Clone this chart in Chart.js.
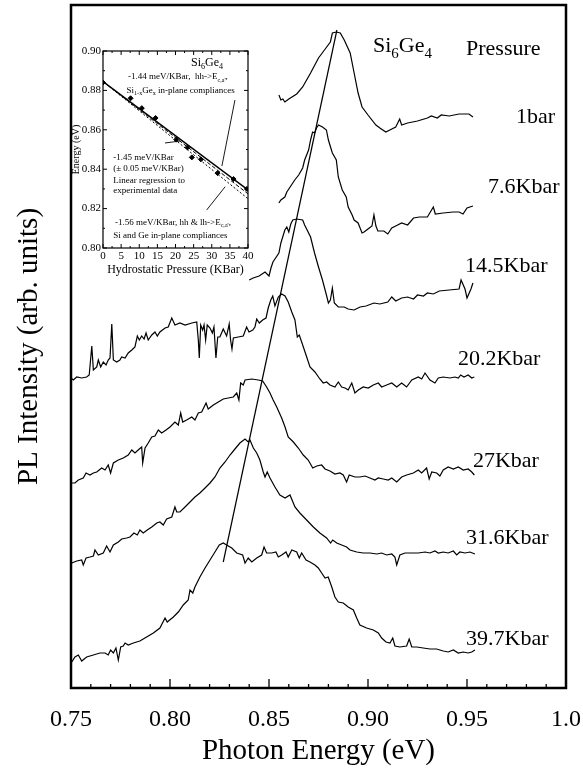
<!DOCTYPE html>
<html>
<head>
<meta charset="utf-8">
<script src="https://cdn.jsdelivr.net/npm/chart.js@4.4.1/dist/chart.umd.min.js"></script>
<style>
  html, body { margin: 0; padding: 0; background: #fff; }
  #wrap { position: relative; width: 583px; height: 777px; }
  #mainChart { position: absolute; left: 0; top: 0; }
  #insetChart { position: absolute; left: 70px; top: 40px; }
</style>
</head>
<body>
<div id="wrap">
  <canvas id="mainChart" width="583" height="777"></canvas>
  <canvas id="insetChart" width="190" height="245"></canvas>
</div>
<script>
// PL spectra of Si6Ge4 under hydrostatic pressure (energy in eV, intensity in arb. units, stacked)
const pressures = ['1bar', '7.6Kbar', '14.5Kbar', '20.2Kbar', '27Kbar', '31.6Kbar', '39.7Kbar'];

const e1bar = [0.855,0.856,0.857,0.858,0.860,0.864,0.867,0.871,0.875,0.878,0.881,0.882,0.884,0.886,0.888,0.891,0.893,0.895,0.897,0.900,0.904,0.906,0.909,0.912,0.914,0.916,0.917,0.920,0.925,0.930,0.932,0.935,0.937,0.941,0.946,0.951,0.953];
const i1bar = [5.93,5.88,5.89,5.86,5.89,5.94,6.01,6.15,6.30,6.38,6.46,6.55,6.56,6.55,6.48,6.35,6.15,5.95,5.81,5.73,5.63,5.60,5.56,5.59,5.61,5.69,5.63,5.65,5.67,5.70,5.72,5.70,5.73,5.72,5.74,5.74,5.71];

const e7k6 = [0.855,0.856,0.858,0.859,0.861,0.862,0.863,0.865,0.867,0.868,0.870,0.871,0.872,0.873,0.874,0.875,0.877,0.879,0.880,0.882,0.884,0.885,0.887,0.889,0.890,0.892,0.893,0.895,0.896,0.897,0.898,0.900,0.902,0.903,0.904,0.905,0.908,0.910,0.912,0.914,0.917,0.920,0.923,0.926,0.930,0.933,0.934,0.938,0.943,0.946,0.948,0.950,0.953];
const i7k6 = [4.85,4.88,4.91,4.96,5.02,5.05,5.08,5.13,5.20,5.28,5.38,5.48,5.56,5.55,5.60,5.63,5.61,5.58,5.48,5.35,5.28,5.11,4.98,4.91,4.81,4.73,4.68,4.65,4.60,4.55,4.56,4.59,4.62,4.73,4.62,4.57,4.57,4.54,4.60,4.62,4.65,4.63,4.70,4.71,4.71,4.81,4.74,4.75,4.76,4.76,4.74,4.80,4.82];

const e14k5 = [0.840,0.842,0.845,0.848,0.850,0.851,0.852,0.855,0.856,0.858,0.859,0.860,0.861,0.862,0.864,0.867,0.868,0.871,0.873,0.875,0.877,0.879,0.880,0.881,0.882,0.883,0.885,0.888,0.890,0.893,0.896,0.899,0.903,0.906,0.910,0.912,0.914,0.917,0.920,0.923,0.925,0.928,0.930,0.933,0.936,0.941,0.946,0.947,0.949,0.950,0.952,0.953];
const i14k5 = [4.08,4.10,4.12,4.16,4.12,4.20,4.26,4.35,4.45,4.58,4.61,4.56,4.64,4.68,4.69,4.68,4.63,4.51,4.35,4.21,4.08,3.93,3.85,3.88,4.00,3.85,3.81,3.81,3.79,3.78,3.81,3.82,3.85,3.84,3.86,3.91,3.87,3.90,3.91,3.89,3.93,3.92,3.95,3.94,3.97,3.98,3.99,4.08,3.99,3.90,3.99,4.05];

const e20k2 = [0.7500,0.7512,0.7529,0.7554,0.7579,0.7592,0.7605,0.7613,0.7630,0.7638,
  0.7650,0.7663,0.7677,0.7688,0.7697,0.7706,0.7714,0.7731,0.7747,0.7756,
  0.7773,0.7789,0.7807,0.7823,0.7835,0.7845,0.7857,0.7869,0.7879,0.7890,
  0.7908,0.7924,0.7936,0.7949,0.7975,0.7991,0.8009,0.8025,0.8050,0.8076,
  0.8110,0.8135,0.8143,0.8148,0.8155,0.8165,0.8172,0.8180,0.8188,0.8202,
  0.8214,0.8222,0.8232,0.8241,0.8252,0.8269,0.8286,0.8299,0.8306,0.8313,
  0.8320,0.8345,0.8370,0.8387,0.8399,0.8418,0.8429,0.8438,0.8451,0.8468,
  0.8485,0.8496,0.8509,0.8519,0.8530,0.8547,0.8564,0.8581,0.8597,0.8615,
  0.8631,0.8643,0.8653,0.8665,0.8682,0.8707,0.8732,0.8757,0.8774,0.8791,
  0.8808,0.8833,0.8850,0.8867,0.8884,0.8900,0.8918,0.8934,0.8951,0.8976,
  0.9001,0.9027,0.9052,0.9069,0.9094,0.9120,0.9145,0.9170,0.9195,0.9221,
  0.9254,0.9271,0.9288,0.9313,0.9338,0.9355,0.9380,0.9414,0.9439,0.9456,
  0.9468,0.9485,0.9506,0.9524,0.9537];
const i20k2 = [3.10,3.08,3.11,3.10,3.11,3.13,3.42,3.18,3.21,3.28,
  3.21,3.26,3.23,3.28,3.30,3.64,3.28,3.26,3.28,3.31,
  3.30,3.35,3.38,3.41,3.52,3.48,3.52,3.49,3.55,3.48,
  3.53,3.56,3.52,3.56,3.60,3.61,3.70,3.63,3.65,3.63,
  3.65,3.66,3.48,3.30,3.63,3.58,3.63,3.48,3.63,3.60,
  3.55,3.61,3.30,3.51,3.51,3.59,3.52,3.64,3.48,3.39,
  3.50,3.51,3.52,3.61,3.56,3.58,3.61,3.69,3.65,3.68,
  3.70,3.80,3.88,3.92,3.82,3.91,3.94,3.92,3.86,3.76,
  3.68,3.51,3.53,3.46,3.36,3.21,3.16,3.09,3.05,3.06,
  3.03,3.01,3.06,3.01,3.00,2.98,3.05,2.95,2.98,3.01,
  3.00,3.03,3.05,3.01,3.03,3.05,3.01,3.05,3.01,3.08,
  3.11,3.09,3.15,3.08,3.05,3.10,3.11,3.10,3.11,3.10,
  3.13,3.11,3.13,3.10,3.11];

const e27k = [0.7504,0.7520,0.7537,0.7562,0.7576,0.7596,0.7613,0.7630,0.7655,0.7672,
  0.7688,0.7700,0.7714,0.7739,0.7764,0.7789,0.7807,0.7823,0.7845,0.7857,
  0.7862,0.7874,0.7890,0.7908,0.7924,0.7941,0.7958,0.7980,0.8000,0.8025,
  0.8042,0.8054,0.8064,0.8084,0.8110,0.8126,0.8143,0.8160,0.8182,0.8193,
  0.8219,0.8244,0.8269,0.8294,0.8320,0.8337,0.8348,0.8357,0.8370,0.8379,
  0.8413,0.8446,0.8468,0.8488,0.8505,0.8521,0.8539,0.8564,0.8581,0.8597,
  0.8623,0.8648,0.8673,0.8698,0.8721,0.8741,0.8766,0.8783,0.8808,0.8833,
  0.8858,0.8875,0.8892,0.8905,0.8934,0.8959,0.8985,0.9010,0.9035,0.9052,
  0.9077,0.9102,0.9120,0.9145,0.9170,0.9195,0.9229,0.9254,0.9271,0.9296,
  0.9309,0.9322,0.9347,0.9363,0.9380,0.9405,0.9431,0.9456,0.9481,0.9506,
  0.9524,0.9537];
const i27k = [2.05,2.05,2.08,2.10,2.15,2.13,2.15,2.16,2.20,2.18,
  2.23,2.15,2.25,2.28,2.30,2.33,2.38,2.35,2.39,2.41,
  2.25,2.40,2.45,2.51,2.52,2.58,2.55,2.58,2.61,2.66,
  2.63,2.75,2.66,2.68,2.71,2.68,2.75,2.76,2.85,2.79,
  2.83,2.86,2.89,2.90,2.91,2.95,2.88,3.05,3.03,3.08,
  3.09,3.08,3.07,3.01,2.95,2.88,2.81,2.70,2.61,2.51,
  2.46,2.40,2.33,2.28,2.20,2.22,2.23,2.19,2.17,2.14,
  2.15,2.13,2.06,2.13,2.11,2.11,2.12,2.10,2.08,2.10,
  2.09,2.08,2.10,2.06,2.11,2.13,2.15,2.18,2.15,2.20,
  2.09,2.16,2.15,2.12,2.18,2.21,2.19,2.21,2.18,2.19,
  2.16,2.13];

const e31k6 = [0.7504,0.7529,0.7554,0.7562,0.7576,0.7596,0.7613,0.7621,0.7638,0.7663,
  0.7680,0.7697,0.7714,0.7739,0.7756,0.7781,0.7798,0.7818,0.7835,0.7848,
  0.7865,0.7885,0.7908,0.7933,0.7949,0.7966,0.7983,0.8009,0.8025,0.8034,
  0.8050,0.8076,0.8101,0.8126,0.8151,0.8177,0.8202,0.8227,0.8252,0.8278,
  0.8303,0.8328,0.8353,0.8379,0.8395,0.8404,0.8421,0.8438,0.8454,0.8471,
  0.8480,0.8491,0.8505,0.8530,0.8555,0.8581,0.8606,0.8631,0.8656,0.8690,
  0.8724,0.8757,0.8791,0.8811,0.8822,0.8842,0.8867,0.8892,0.8909,0.8943,
  0.8976,0.9010,0.9044,0.9069,0.9094,0.9120,0.9136,0.9145,0.9161,0.9187,
  0.9221,0.9254,0.9288,0.9313,0.9338,0.9355,0.9380,0.9405,0.9431,0.9448,
  0.9464,0.9490,0.9515,0.9540];
const i31k6 = [1.25,1.27,1.28,1.23,1.30,1.31,1.32,1.38,1.33,1.35,
  1.42,1.36,1.43,1.46,1.49,1.50,1.51,1.55,1.53,1.58,
  1.55,1.58,1.61,1.65,1.66,1.63,1.69,1.71,1.81,1.76,
  1.76,1.81,1.86,1.91,1.95,2.00,2.05,2.11,2.20,2.26,
  2.33,2.39,2.45,2.49,2.46,2.48,2.40,2.35,2.28,2.16,
  2.11,2.16,2.10,2.01,1.93,1.90,1.93,1.81,1.75,1.68,
  1.61,1.55,1.50,1.45,1.48,1.45,1.43,1.41,1.38,1.36,
  1.35,1.35,1.34,1.35,1.33,1.34,1.31,1.23,1.33,1.35,
  1.35,1.35,1.36,1.35,1.37,1.35,1.36,1.35,1.37,1.33,
  1.36,1.35,1.36,1.34];

const e39k7 = [0.7504,0.7520,0.7537,0.7554,0.7579,0.7613,0.7646,0.7672,0.7688,0.7700,
  0.7714,0.7727,0.7739,0.7751,0.7764,0.7773,0.7789,0.7815,0.7848,0.7882,
  0.7916,0.7949,0.7975,0.7986,0.8017,0.8042,0.8067,0.8092,0.8101,0.8115,
  0.8126,0.8151,0.8177,0.8202,0.8227,0.8249,0.8269,0.8286,0.8312,0.8337,
  0.8367,0.8379,0.8395,0.8413,0.8438,0.8463,0.8475,0.8488,0.8514,0.8535,
  0.8547,0.8564,0.8586,0.8597,0.8615,0.8640,0.8653,0.8665,0.8687,0.8707,
  0.8732,0.8749,0.8766,0.8783,0.8799,0.8817,0.8833,0.8850,0.8875,0.8900,
  0.8926,0.8943,0.8959,0.8993,0.9027,0.9052,0.9069,0.9091,0.9111,0.9125,
  0.9136,0.9161,0.9195,0.9208,0.9221,0.9246,0.9279,0.9313,0.9347,0.9380,
  0.9405,0.9431,0.9456,0.9481,0.9506,0.9524,0.9540];
const i39k7 = [0.26,0.31,0.33,0.27,0.31,0.33,0.35,0.35,0.33,0.38,
  0.35,0.40,0.28,0.41,0.42,0.45,0.43,0.45,0.47,0.51,
  0.55,0.60,0.70,0.66,0.71,0.76,0.83,0.88,0.98,0.95,
  1.01,1.11,1.20,1.28,1.36,1.43,1.45,1.43,1.40,1.35,
  1.33,1.25,1.30,1.26,1.30,1.33,1.41,1.35,1.35,1.36,
  1.31,1.33,1.36,1.31,1.38,1.36,1.30,1.35,1.28,1.26,
  1.23,1.20,1.15,1.10,1.11,1.01,0.91,0.86,0.85,0.81,
  0.78,0.70,0.63,0.60,0.58,0.55,0.50,0.46,0.45,0.50,
  0.42,0.41,0.42,0.49,0.41,0.41,0.40,0.39,0.39,0.37,
  0.36,0.38,0.35,0.36,0.35,0.36,0.38];

// straight guide line through the peaks
const peakLineE = [0.8843, 0.8269];
const peakLineI = [6.58, 1.26];

const energyTicks = [0.75, 0.80, 0.85, 0.90, 0.95, 1.0];

// inset: peak energy vs hydrostatic pressure
const insetP = [0, 7.6, 10.7, 14.5, 20.2, 23.3, 24.5, 27, 31.6, 36, 39.7];
const insetE = [0.884, 0.876, 0.871, 0.866, 0.855, 0.851, 0.846, 0.845, 0.838, 0.835, 0.830];
const fitP = [0, 40];
const fitSolid = [0.8845, 0.8295];
const fitDash = [0.8845, 0.8275];
const fitDot = [0.8845, 0.8250];

// ---- layout (not data) ----
const SERIF = "'Liberation Serif', 'Times New Roman', serif";
Chart.defaults.font.family = SERIF;
Chart.defaults.color = '#000';

const labelAt = [[0.9747, 5.72], [0.9606, 5.02], [0.9490, 4.23], [0.9454, 3.30], [0.9530, 2.28], [0.9495, 1.51], [0.9495, 0.50]];
const pressureHeadAt = [0.9495, 6.40];
const sampleAt = [0.9025, 6.43];

const insetNotes = [
  { parts: [['Si'], ['6', 1], ['Ge'], ['4', 1]], at: [28.7, 0.8944], size: 12, align: 'center' },
  { parts: [['-1.44 meV/KBar,  hh->E'], ["c,a'", 1], [',']], at: [6.9, 0.8873], size: 9 },
  { parts: [['Si'], ['1-x', 1], ['Ge'], ['x', 1], [' in-plane compliances']], at: [6.5, 0.8802], size: 9 },
  { parts: [['-1.45 meV/KBar']], at: [2.8, 0.8462], size: 9 },
  { parts: [['(\u00b1 0.05 meV/KBar)']], at: [2.8, 0.8406], size: 9 },
  { parts: [['Linear regression to']], at: [2.8, 0.8345], size: 9 },
  { parts: [['experimental data']], at: [2.8, 0.8294], size: 9 },
  { parts: [['-1.56 meV/KBar, hh & lh->E'], ["c,a'", 1], [',']], at: [3.3, 0.8132], size: 9 },
  { parts: [['Si and Ge in-plane compliances']], at: [2.8, 0.8066], size: 9 }
];
const insetPointers = [
  [[36.4, 0.8751], [32.8, 0.8416]],
  [[17.1, 0.8533], [21.2, 0.8543]],
  [[28.6, 0.8193], [33.7, 0.8311]]
];

function richText(ctx, parts, x0, yMid, size, align) {
  const small = size * 0.68;
  let w = 0;
  parts.forEach(([t, sub]) => {
    ctx.font = `${sub ? small : size}px ${SERIF}`;
    w += ctx.measureText(t).width;
  });
  let cx = align === 'center' ? x0 - w / 2 : x0;
  ctx.textAlign = 'left';
  ctx.textBaseline = 'alphabetic';
  parts.forEach(([t, sub]) => {
    ctx.font = `${sub ? small : size}px ${SERIF}`;
    ctx.fillText(t, cx, yMid + size * 0.33 + (sub ? size * 0.28 : 0));
    cx += ctx.measureText(t).width;
  });
}

const toPts = (xs, ys) => xs.map((x, k) => ({ x, y: ys[k] }));
const curve = (xs, ys) => ({
  data: toPts(xs, ys), borderColor: '#000', borderWidth: 1.2,
  pointRadius: 0, tension: 0, fill: false
});

const mainDecor = {
  id: 'mainDecor',
  afterDraw(chart) {
    const { ctx, chartArea: a, scales: { x, y } } = chart;
    ctx.save();
    ctx.strokeStyle = '#000';
    ctx.lineWidth = 2.5;
    ctx.strokeRect(a.left, a.top, a.right - a.left, a.bottom - a.top);
    ctx.lineWidth = 1.3;
    for (let k = 0; k <= 25; k++) {
      const px = x.getPixelForValue(0.75 + k * 0.01);
      const len = k % 5 === 0 ? 9 : 4;
      ctx.beginPath();
      ctx.moveTo(px, a.bottom);
      ctx.lineTo(px, a.bottom - len);
      ctx.stroke();
    }
    ctx.fillStyle = '#000';
    pressures.forEach((t, k) => {
      richText(ctx, [[t]], x.getPixelForValue(labelAt[k][0]), y.getPixelForValue(labelAt[k][1]), 22, 'left');
    });
    richText(ctx, [['Pressure']], x.getPixelForValue(pressureHeadAt[0]), y.getPixelForValue(pressureHeadAt[1]), 22, 'left');
    richText(ctx, [['Si'], ['6', 1], ['Ge'], ['4', 1]], x.getPixelForValue(sampleAt[0]), y.getPixelForValue(sampleAt[1]), 22, 'left');
    ctx.restore();
  }
};

new Chart(document.getElementById('mainChart'), {
  type: 'line',
  data: {
    datasets: [
      curve(e1bar, i1bar), curve(e7k6, i7k6), curve(e14k5, i14k5), curve(e20k2, i20k2),
      curve(e27k, i27k), curve(e31k6, i31k6), curve(e39k7, i39k7),
      curve(peakLineE, peakLineI)
    ]
  },
  options: {
    responsive: false,
    animation: false,
    layout: { padding: { top: 5, right: 17, left: 0, bottom: 0 } },
    plugins: { legend: { display: false }, tooltip: { enabled: false } },
    scales: {
      x: {
        type: 'linear', min: 0.75, max: 1.0,
        afterBuildTicks: s => { s.ticks = energyTicks.map(v => ({ value: v })); },
        ticks: {
          font: { size: 24 }, color: '#000', padding: 17, maxRotation: 0, autoSkip: false,
          callback: v => (Math.abs(v - 1) < 1e-9 ? '1.0' : v.toFixed(2))
        },
        grid: { display: false, drawTicks: false },
        border: { display: false },
        title: { display: true, text: 'Photon Energy (eV)', font: { size: 29 }, color: '#000', padding: { top: 0, bottom: 8 } },
        afterFit: s => { s.height = 89; s.paddingLeft = 0; s.paddingRight = 0; }
      },
      y: {
        min: 0, max: 6.83,
        ticks: { display: false },
        grid: { display: false, drawTicks: false },
        border: { display: false },
        title: { display: true, text: 'PL Intensity (arb. units)', font: { size: 29 }, color: '#000', padding: { top: 12, bottom: 0 } },
        afterFit: s => { s.width = 71; s.paddingTop = 0; s.paddingBottom = 0; }
      }
    }
  },
  plugins: [mainDecor]
});

const insetDecor = {
  id: 'insetDecor',
  afterDraw(chart) {
    const { ctx, chartArea: a, scales: { x, y } } = chart;
    ctx.save();
    ctx.strokeStyle = '#000';
    ctx.lineWidth = 1.2;
    ctx.strokeRect(a.left, a.top, a.right - a.left, a.bottom - a.top);
    ctx.lineWidth = 1;
    for (let k = 0; k <= 16; k++) {
      const px = x.getPixelForValue(k * 2.5);
      const len = k % 2 === 0 ? 4 : 2;
      ctx.beginPath();
      ctx.moveTo(px, a.bottom); ctx.lineTo(px, a.bottom - len);
      ctx.moveTo(px, a.top); ctx.lineTo(px, a.top + len);
      ctx.stroke();
    }
    for (let k = 0; k <= 10; k++) {
      const py = y.getPixelForValue(0.80 + k * 0.01);
      const len = k % 2 === 0 ? 4 : 2;
      ctx.beginPath();
      ctx.moveTo(a.left, py); ctx.lineTo(a.left + len, py);
      ctx.moveTo(a.right, py); ctx.lineTo(a.right - len, py);
      ctx.stroke();
    }
    ctx.lineWidth = 0.9;
    insetPointers.forEach(([p0, p1]) => {
      ctx.beginPath();
      ctx.moveTo(x.getPixelForValue(p0[0]), y.getPixelForValue(p0[1]));
      ctx.lineTo(x.getPixelForValue(p1[0]), y.getPixelForValue(p1[1]));
      ctx.stroke();
    });
    ctx.fillStyle = '#000';
    insetNotes.forEach(n => {
      richText(ctx, n.parts, x.getPixelForValue(n.at[0]), y.getPixelForValue(n.at[1]), n.size, n.align || 'left');
    });
    ctx.restore();
  }
};

new Chart(document.getElementById('insetChart'), {
  type: 'line',
  data: {
    datasets: [
      { data: toPts(fitP, fitSolid), borderColor: '#000', borderWidth: 1.6, pointRadius: 0, tension: 0 },
      { data: toPts(fitP, fitDash), borderColor: '#000', borderWidth: 1, borderDash: [4, 2], pointRadius: 0, tension: 0 },
      { data: toPts(fitP, fitDot), borderColor: '#000', borderWidth: 1, borderDash: [2, 2], pointRadius: 0, tension: 0 },
      { data: toPts(insetP, insetE), showLine: false, pointStyle: 'rectRot', pointRadius: 2.5, backgroundColor: '#000', borderColor: '#000' }
    ]
  },
  options: {
    responsive: false,
    animation: false,
    layout: { padding: { top: 11, right: 12, left: 0, bottom: 0 } },
    plugins: { legend: { display: false }, tooltip: { enabled: false } },
    scales: {
      x: {
        type: 'linear', min: 0, max: 40,
        ticks: { stepSize: 5, font: { size: 11 }, color: '#000', padding: 2, maxRotation: 0, autoSkip: false },
        grid: { display: false, drawTicks: false },
        border: { display: false },
        title: { display: true, text: 'Hydrostatic Pressure (KBar)', font: { size: 12 }, color: '#000', padding: { top: 0, bottom: 8 } },
        afterFit: s => { s.height = 37; }
      },
      y: {
        min: 0.80, max: 0.90,
        ticks: { stepSize: 0.02, font: { size: 11 }, color: '#000', padding: 2, callback: v => v.toFixed(2) },
        grid: { display: false, drawTicks: false },
        border: { display: false },
        title: { display: true, text: 'Energy (eV)', font: { size: 10 }, color: '#000', padding: 0 },
        afterFit: s => { s.width = 33; }
      }
    }
  },
  plugins: [insetDecor]
});
</script>
</body>
</html>
